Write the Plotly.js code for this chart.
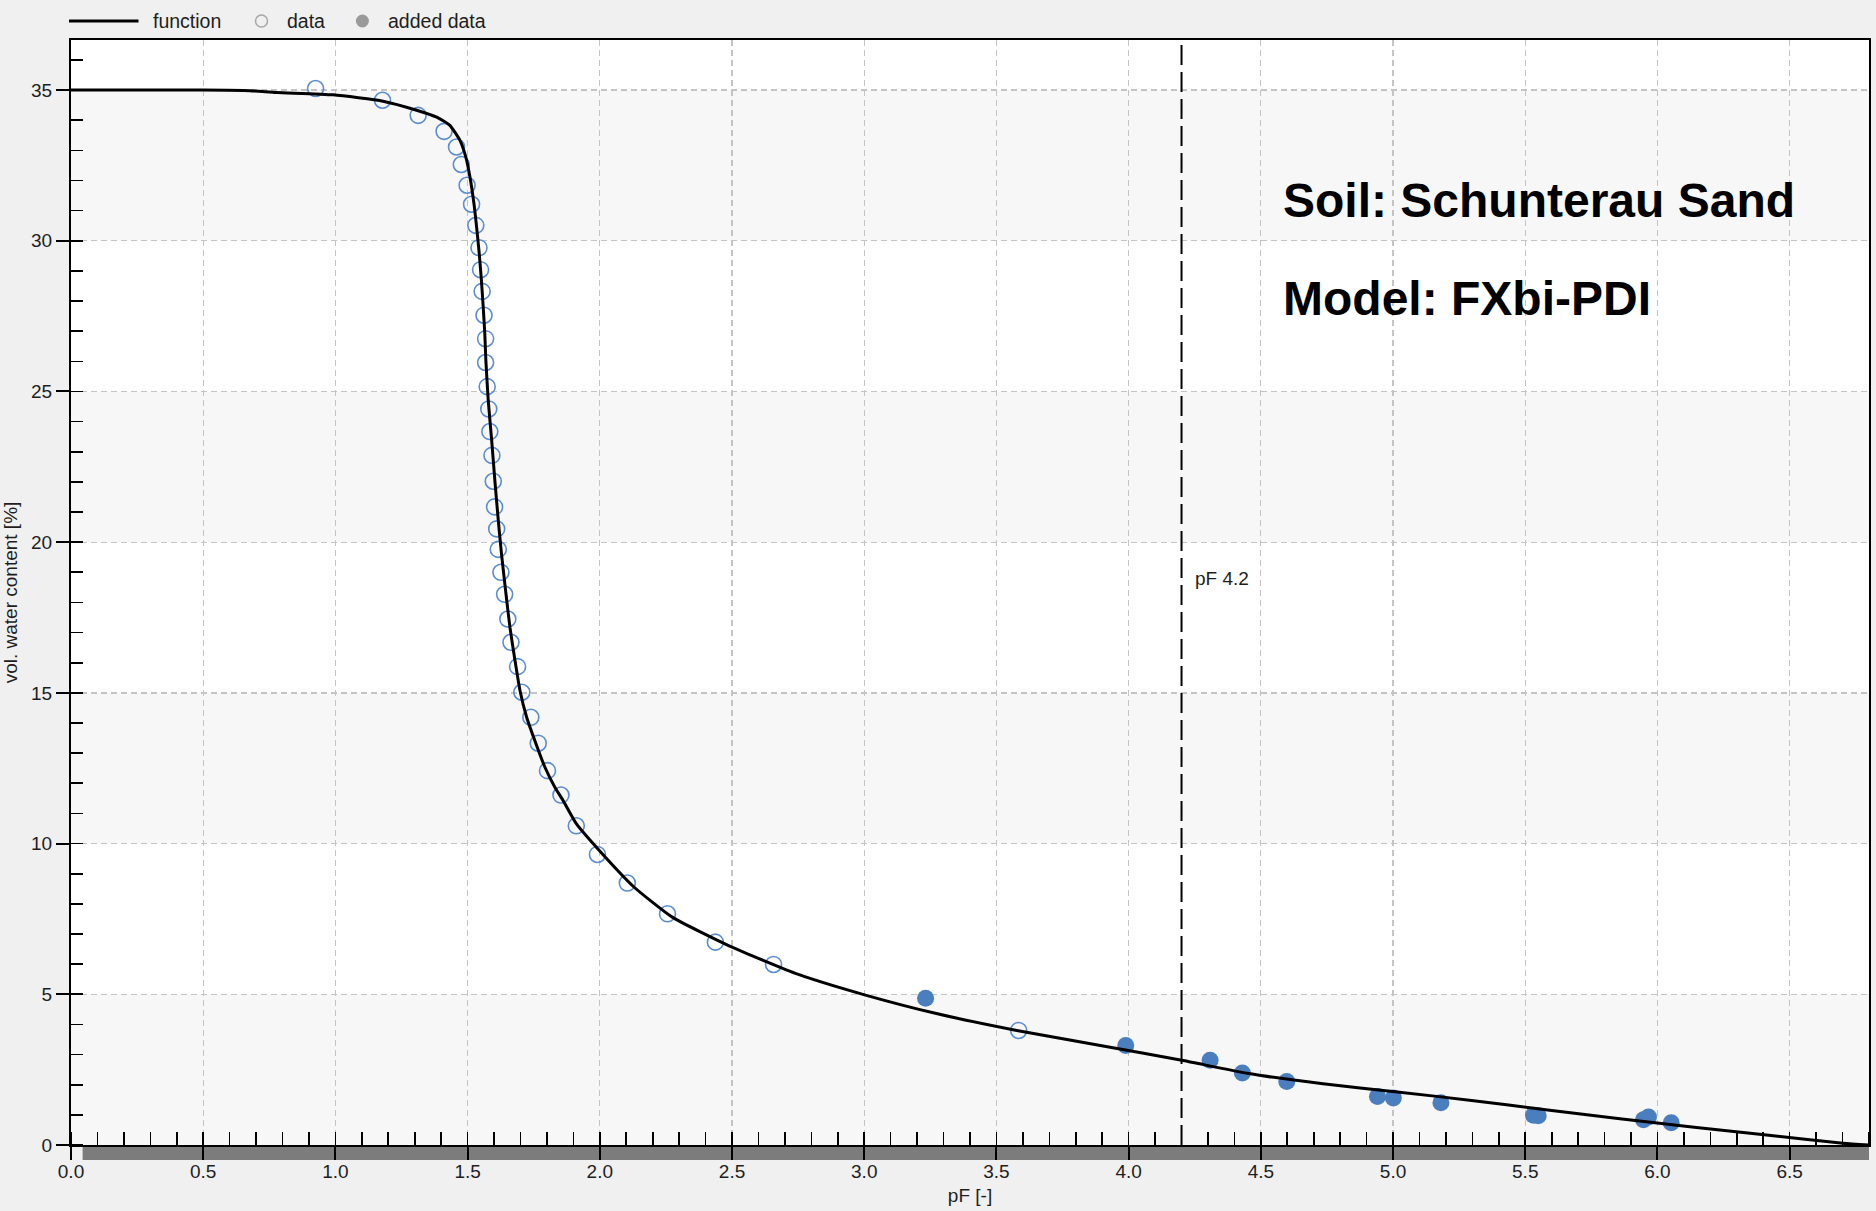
<!DOCTYPE html>
<html>
<head>
<meta charset="utf-8">
<script src="https://cdn.plot.ly/plotly-3.0.1.min.js"></script>
<style>
html,body{margin:0;padding:0;background:#f0f0f0;}
#chart{width:1876px;height:1211px;}
</style>
</head>
<body>
<div id="chart"></div>
<script>
// ---- fitted function (pF vs vol. water content) ----
const functionPF = [0, 0.5, 0.676, 0.777, 0.991, 1.180, 1.307, 1.383, 1.433, 1.471, 1.493, 1.509, 1.524, 1.534, 1.544, 1.552, 1.559, 1.565, 1.569, 1.578, 1.591, 1.603, 1.616, 1.628, 1.645, 1.660, 1.679, 1.698, 1.723, 1.754, 1.792, 1.830, 1.861, 1.911, 1.998, 2.129, 2.274, 2.491, 2.751, 2.998, 3.273, 3.577, 3.893, 4.201, 4.454, 4.735, 5.016, 5.297, 5.577, 5.858, 6.139, 6.421, 6.701, 6.8];
const functionTheta = [35.0, 35.0, 34.98, 34.92, 34.84, 34.63, 34.33, 34.10, 33.83, 33.33, 32.78, 32.11, 31.23, 30.45, 29.57, 28.70, 27.80, 26.92, 26.03, 24.70, 23.38, 22.05, 20.72, 19.62, 18.29, 17.18, 16.08, 15.08, 14.20, 13.42, 12.54, 11.87, 11.43, 10.66, 9.77, 8.56, 7.56, 6.60, 5.66, 4.99, 4.36, 3.80, 3.30, 2.81, 2.37, 2.03, 1.76, 1.48, 1.17, 0.87, 0.59, 0.32, 0.06, 0.0];

// ---- measured data (open circles) ----
const dataPF = [0.925, 1.178, 1.313, 1.411, 1.458, 1.476, 1.498, 1.515, 1.531, 1.543, 1.549, 1.555, 1.562, 1.568, 1.568, 1.574, 1.580, 1.584, 1.592, 1.597, 1.602, 1.610, 1.616, 1.626, 1.640, 1.652, 1.664, 1.689, 1.705, 1.739, 1.767, 1.802, 1.853, 1.911, 1.991, 2.104, 2.256, 2.437, 2.657, 3.584];
const dataTheta = [35.05, 34.66, 34.16, 33.63, 33.11, 32.53, 31.84, 31.21, 30.51, 29.77, 29.04, 28.32, 27.53, 26.75, 25.96, 25.16, 24.42, 23.67, 22.88, 22.02, 21.17, 20.44, 19.76, 19.00, 18.27, 17.45, 16.68, 15.87, 15.02, 14.19, 13.33, 12.42, 11.61, 10.59, 9.64, 8.69, 7.67, 6.73, 5.99, 3.80];

// ---- added data (filled circles) ----
const addedPF = [3.232, 3.989, 4.308, 4.430, 4.598, 4.941, 5.001, 5.181, 5.531, 5.549, 5.947, 5.966, 6.052];
const addedTheta = [4.87, 3.30, 2.81, 2.39, 2.11, 1.61, 1.56, 1.40, 0.99, 0.97, 0.84, 0.93, 0.74];

// ---- axes / ticks ----
const xRange = [0, 6.8];
const yRange = [0, 36.66];
const xTickValues = [0, 0.5, 1.0, 1.5, 2.0, 2.5, 3.0, 3.5, 4.0, 4.5, 5.0, 5.5, 6.0, 6.5];
const xTickLabels = ['0.0','0.5','1.0','1.5','2.0','2.5','3.0','3.5','4.0','4.5','5.0','5.5','6.0','6.5'];
const yTickValues = [0, 5, 10, 15, 20, 25, 30, 35];
const yTickLabels = ['0','5','10','15','20','25','30','35'];
const pFMarker = 4.2;
const pFMarkerLabel = 'pF 4.2';
const pFMarkerLabelY = 18.78;
const legendLabels = ['function', 'data', 'added data'];
const infoLines = ['Soil: Schunterau Sand', 'Model: FXbi-PDI'];
const infoX = 4.585;
const infoY = [31.35, 28.1];

// ---- layout geometry (pixels) ----
const W = 1876, H = 1211, ML = 71, MR = 7, MT = 40, MB = 66;
const PW = W - ML - MR, PH = H - MT - MB;
const px2paperX = p => (p - ML) / PW;
const px2paperY = p => (H - MB - p) / PH;

const FONT = 'Liberation Sans, Arial, sans-serif';
const TXT = '#1e1e1e';

const traces = [
  {
    x: dataPF, y: dataTheta, type: 'scatter', mode: 'markers', name: legendLabels[1],
    showlegend: false,
    marker: {symbol: 'circle-open', size: 16, color: '#5b8dd0', line: {width: 1.6, color: '#5b8dd0'}}
  },
  {
    x: addedPF, y: addedTheta, type: 'scatter', mode: 'markers', name: legendLabels[2],
    showlegend: false,
    marker: {symbol: 'circle', size: 17, color: '#4a7ebf', line: {width: 0}}
  },
  {
    x: functionPF, y: functionTheta, type: 'scatter', mode: 'lines', name: legendLabels[0],
    showlegend: false,
    line: {color: '#000000', width: 3, shape: 'spline', smoothing: 0.5}
  }
];

const shapes = [];
// alternating horizontal bands
for (let i = 0; i < yTickValues.length - 1; i += 2) {
  shapes.push({type: 'rect', xref: 'x', yref: 'y', x0: xRange[0], x1: xRange[1],
    y0: yTickValues[i], y1: yTickValues[i + 1], fillcolor: '#f7f7f7', line: {width: 0}, layer: 'below'});
}
// gray bar below the x axis
shapes.push({type: 'rect', xref: 'paper', yref: 'paper', x0: px2paperX(82.6), x1: 1,
  y0: px2paperY(1146.5), y1: px2paperY(1160), fillcolor: '#7c7c7c', line: {width: 0}, layer: 'below'});
// pF 4.2 marker line
shapes.push({type: 'line', xref: 'x', yref: 'paper', x0: pFMarker, x1: pFMarker, y0: 0, y1: 1,
  line: {color: '#000000', width: 2, dash: '20px,7px'}, layer: 'above'});
// custom legend symbols
const legY = px2paperY(21);
shapes.push({type: 'line', xref: 'paper', yref: 'paper', x0: px2paperX(69), x1: px2paperX(138.5), y0: legY, y1: legY,
  line: {color: '#000000', width: 3}});
shapes.push({type: 'circle', xref: 'paper', yref: 'paper', xsizemode: 'pixel', ysizemode: 'pixel',
  xanchor: px2paperX(261.5), yanchor: legY, x0: -6, x1: 6, y0: -6, y1: 6,
  line: {color: '#a8a8a8', width: 1.5}, fillcolor: 'rgba(0,0,0,0)'});
shapes.push({type: 'circle', xref: 'paper', yref: 'paper', xsizemode: 'pixel', ysizemode: 'pixel',
  xanchor: px2paperX(362.4), yanchor: legY, x0: -6.5, x1: 6.5, y0: -6.5, y1: 6.5,
  line: {width: 0}, fillcolor: '#9a9a9a'});

const annotations = [
  {xref: 'paper', yref: 'paper', x: px2paperX(153), y: legY, text: legendLabels[0], showarrow: false,
   xanchor: 'left', yanchor: 'middle', borderpad: 0, borderwidth: 0, font: {family: FONT, size: 19.5, color: TXT}},
  {xref: 'paper', yref: 'paper', x: px2paperX(287), y: legY, text: legendLabels[1], showarrow: false,
   xanchor: 'left', yanchor: 'middle', borderpad: 0, borderwidth: 0, font: {family: FONT, size: 19.5, color: TXT}},
  {xref: 'paper', yref: 'paper', x: px2paperX(387.7), y: legY, text: legendLabels[2], showarrow: false,
   xanchor: 'left', yanchor: 'middle', borderpad: 0, borderwidth: 0, font: {family: FONT, size: 19.5, color: TXT}},
  {xref: 'x', yref: 'y', x: pFMarker, y: pFMarkerLabelY, xshift: 13, text: pFMarkerLabel, showarrow: false,
   xanchor: 'left', yanchor: 'middle', borderpad: 0, borderwidth: 0, font: {family: FONT, size: 19, color: TXT}},
  {xref: 'x', yref: 'y', x: infoX, y: infoY[0], text: infoLines[0], showarrow: false,
   xanchor: 'left', yanchor: 'middle', borderpad: 0, borderwidth: 0, font: {family: FONT, size: 48, weight: 'bold', color: '#000000'}},
  {xref: 'x', yref: 'y', x: infoX, y: infoY[1], text: infoLines[1], showarrow: false,
   xanchor: 'left', yanchor: 'middle', borderpad: 0, borderwidth: 0, font: {family: FONT, size: 48, weight: 'bold', color: '#000000'}}
];

const layout = {
  width: W, height: H,
  margin: {l: ML, r: MR, t: MT, b: MB, pad: 0},
  paper_bgcolor: '#f0f0f0',
  plot_bgcolor: '#ffffff',
  showlegend: false,
  font: {family: FONT, size: 19, color: TXT},
  xaxis: {
    range: xRange, autorange: false,
    tickmode: 'array', tickvals: xTickValues, ticktext: xTickLabels,
    ticks: 'outside', ticklen: 13, tickwidth: 2, tickcolor: '#000000',
    ticklabelstandoff: -5,
    tickfont: {family: FONT, size: 19, color: TXT},
    showline: true, linecolor: '#000000', linewidth: 2, mirror: true,
    showgrid: true, gridcolor: '#c4c4c4', gridwidth: 1.3, griddash: '6px,4px',
    zeroline: false,
    minor: {tickmode: 'linear', tick0: 0, dtick: 0.1, ticks: 'inside', ticklen: 13, tickwidth: 1.6, tickcolor: '#000000', showgrid: false},
    title: {text: 'pF [-]', font: {family: FONT, size: 19, color: TXT}, standoff: 8}
  },
  yaxis: {
    range: yRange, autorange: false,
    tickmode: 'array', tickvals: yTickValues, ticktext: yTickLabels,
    ticks: 'outside', ticklen: 13, tickwidth: 2, tickcolor: '#000000',
    tickfont: {family: FONT, size: 19, color: TXT},
    showline: true, linecolor: '#000000', linewidth: 2, mirror: true,
    showgrid: true, gridcolor: '#c4c4c4', gridwidth: 1.3, griddash: '6px,4px',
    zeroline: false,
    minor: {tickmode: 'linear', tick0: 0, dtick: 1, ticks: 'inside', ticklen: 12, tickwidth: 1.6, tickcolor: '#000000', showgrid: false},
    title: {text: 'vol. water content [%]', font: {family: FONT, size: 19, color: TXT}, standoff: 10}
  },
  shapes: shapes,
  annotations: annotations
};

Plotly.newPlot('chart', traces, layout, {displayModeBar: false, staticPlot: true});
</script>
</body>
</html>
